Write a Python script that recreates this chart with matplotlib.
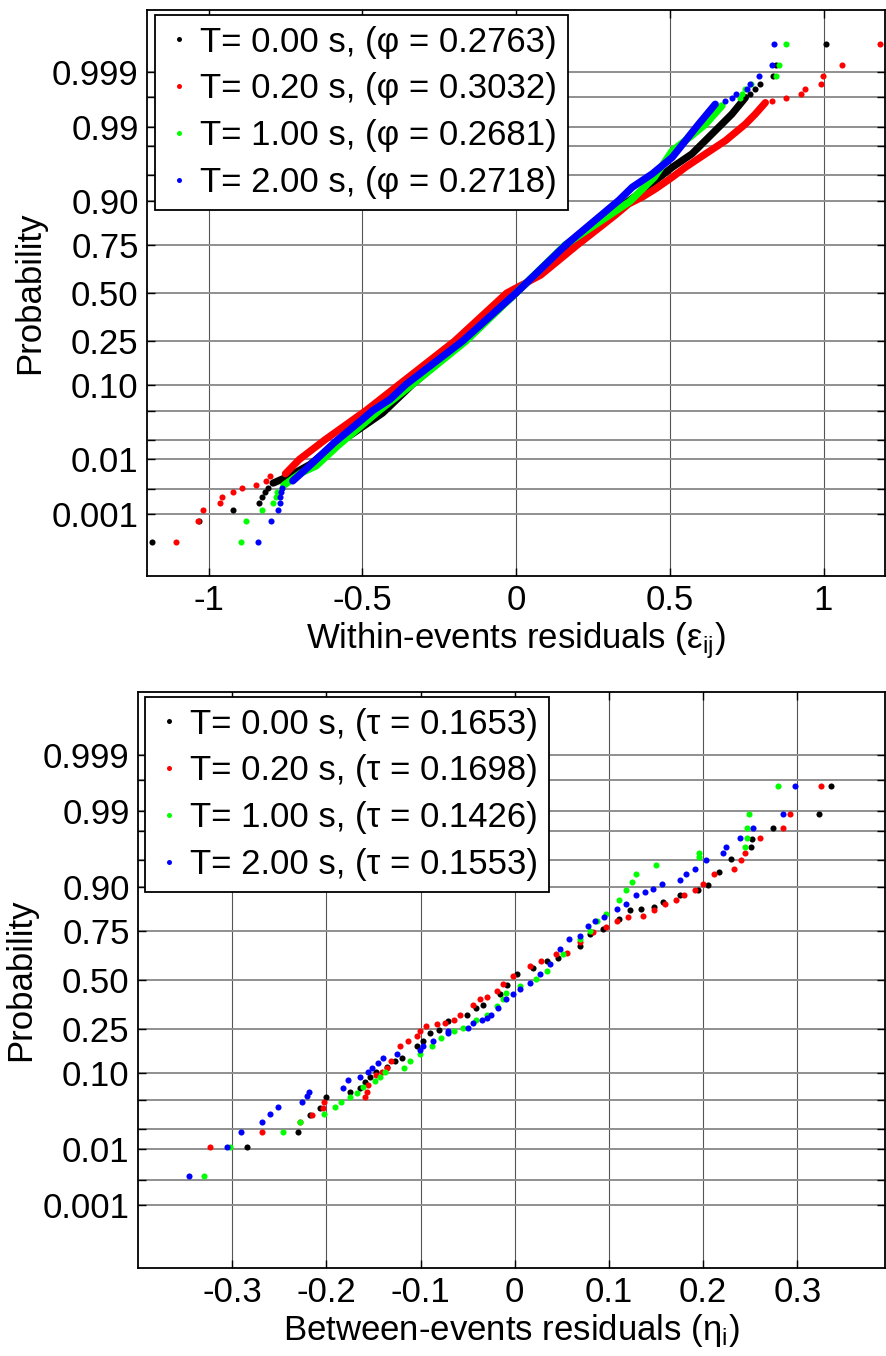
import matplotlib
matplotlib.use('Agg')
import matplotlib.pyplot as plt
from matplotlib.lines import Line2D
from statistics import NormalDist

plt.rcParams['font.family'] = ['Liberation Sans', 'DejaVu Sans']
plt.rcParams['mathtext.fontset'] = 'custom'
plt.rcParams['mathtext.rm'] = 'Liberation Sans'
plt.rcParams['mathtext.it'] = 'Liberation Sans:italic'
plt.rcParams['axes.unicode_minus'] = False

# legend info
periods = ['0.00', '0.20', '1.00', '2.00']
phi_vals = [0.2763, 0.3032, 0.2681, 0.2718]
tau_vals = [0.1653, 0.1698, 0.1426, 0.1553]
colors = ['#000000', '#ff0000', '#00ff00', '#0000ff']

# probability axis (normal quantile scale)
prob_grid = [0.001, 0.003, 0.01, 0.02, 0.05, 0.10, 0.25, 0.50,
             0.75, 0.90, 0.95, 0.98, 0.99, 0.997, 0.999]
prob_labels = ['0.001', '', '0.01', '', '', '0.10', '0.25', '0.50',
               '0.75', '0.90', '', '', '0.99', '', '0.999']

# ---- within-event residuals: x = residual, q = normal quantile of plotting position
# dense middle part ("core") and sparse tails
eps_core_x_t000 = [-0.79, -0.737, -0.67, -0.596, -0.542, -0.434, -0.337, -0.17, 0.0, 0.165,
                   0.29, 0.399, 0.454, 0.508, 0.572, 0.637, 0.702, 0.746]
eps_core_q_t000 = [-2.66, -2.56, -2.40, -2.14, -2.0, -1.68, -1.28, -0.674, 0.0, 0.674,
                   1.05, 1.389, 1.574, 1.759, 1.946, 2.224, 2.503, 2.734]
eps_tail_x_t000 = [-1.183, -1.031, -0.919, -0.836, -0.826, -0.816, -0.808,
                   0.762, 0.778, 0.794, 0.836, 0.846, 1.009]
eps_tail_q_t000 = [-3.49, -3.19, -3.04, -2.94, -2.86, -2.79, -2.73,
                   2.79, 2.85, 2.93, 3.04, 3.19, 3.49]

eps_core_x_t020 = [-0.75, -0.705, -0.62, -0.488, -0.38, -0.20, -0.03, 0.08, 0.20, 0.26, 0.32,
                   0.367, 0.41, 0.454, 0.508, 0.551, 0.616, 0.681, 0.746, 0.778, 0.811]
eps_core_q_t020 = [-2.53, -2.33, -2.05, -1.645, -1.28, -0.674, 0.0, 0.25, 0.674, 0.877, 1.08,
                   1.249, 1.341, 1.458, 1.62, 1.759, 1.946, 2.131, 2.363, 2.503, 2.664]
eps_tail_x_t020 = [-1.105, -1.035, -1.018, -0.964, -0.955, -0.919, -0.891, -0.845, -0.812, -0.80,
                   0.832, 0.879, 0.928, 0.941, 0.993, 0.998, 1.06, 1.185]
eps_tail_q_t020 = [-3.49, -3.19, -3.04, -2.94, -2.86, -2.79, -2.73, -2.68, -2.63, -2.56,
                   2.69, 2.73, 2.79, 2.85, 2.93, 3.04, 3.19, 3.49]

eps_core_x_t100 = [-0.755, -0.70, -0.65, -0.58, -0.445, -0.337, -0.163, 0.0, 0.16, 0.37,
                   0.45, 0.508, 0.565, 0.616, 0.67]
eps_core_q_t100 = [-2.69, -2.52, -2.42, -2.14, -1.645, -1.28, -0.674, 0.0, 0.674, 1.28,
                   1.62, 1.99, 2.18, 2.36, 2.62]
eps_tail_x_t100 = [-0.895, -0.878, -0.826, -0.791, -0.780, -0.776, -0.761,
                   0.73, 0.735, 0.744, 0.765, 0.846, 0.854, 0.879]
eps_tail_q_t100 = [-3.49, -3.19, -3.04, -2.94, -2.86, -2.79, -2.73,
                   2.73, 2.79, 2.85, 2.93, 3.04, 3.19, 3.49]

eps_core_x_t200 = [-0.726, -0.672, -0.59, -0.50, -0.466, -0.41, -0.358, -0.174, 0.0, 0.162,
                   0.334, 0.378, 0.443, 0.508, 0.551, 0.594, 0.648]
eps_core_q_t200 = [-2.63, -2.42, -2.09, -1.77, -1.645, -1.49, -1.28, -0.674, 0.0, 0.674,
                   1.295, 1.48, 1.667, 1.898, 2.131, 2.363, 2.642]
eps_tail_x_t200 = [-0.840, -0.797, -0.774, -0.769, -0.767, -0.764, -0.761,
                   0.681, 0.702, 0.717, 0.751, 0.760, 0.791, 0.832, 0.838]
eps_tail_q_t200 = [-3.49, -3.19, -3.04, -2.94, -2.86, -2.79, -2.73,
                   2.69, 2.73, 2.79, 2.85, 2.93, 3.04, 3.19, 3.49]

# ---- between-event residuals
eta_x_t000 = [-0.284, -0.230, -0.217, -0.207, -0.200, -0.175, -0.164, -0.159, -0.154, -0.147,
              -0.136, -0.127, -0.120, -0.104, -0.097, -0.090, -0.080, -0.071, -0.051, -0.041,
              -0.034, -0.016, -0.008, 0.002, 0.019, 0.034, 0.046, 0.069, 0.080, 0.094,
              0.111, 0.122, 0.134, 0.148, 0.157, 0.175, 0.194, 0.205, 0.217, 0.230,
              0.251, 0.252, 0.274, 0.323, 0.336]
eta_q_t000 = [-2.295, -2.09, -1.85, -1.76, -1.61, -1.54, -1.48, -1.40, -1.33, -1.26,
              -1.19, -1.12, -1.076, -0.914, -0.845, -0.73, -0.683, -0.568, -0.475, -0.384,
              -0.337, -0.198, -0.07, 0.079, 0.17, 0.263, 0.30, 0.471, 0.633, 0.70,
              0.84, 0.956, 0.979, 1.0, 1.07, 1.163, 1.233, 1.30, 1.486, 1.67,
              1.83, 1.94, 2.09, 2.28, 2.67]

eta_x_t020 = [-0.324, -0.268, -0.228, -0.215, -0.204, -0.203, -0.159, -0.157, -0.156, -0.147,
              -0.141, -0.136, -0.131, -0.122, -0.113, -0.104, -0.101, -0.094, -0.083, -0.074,
              -0.065, -0.058, -0.044, -0.037, -0.030, -0.019, -0.012, -0.002, 0.016, 0.028,
              0.044, 0.055, 0.069, 0.083, 0.097, 0.108, 0.120, 0.136, 0.148, 0.159,
              0.171, 0.180, 0.191, 0.200, 0.212, 0.233, 0.240, 0.244, 0.260, 0.285,
              0.292, 0.325]
eta_q_t020 = [-2.295, -2.09, -1.95, -1.85, -1.76, -1.68, -1.61, -1.54, -1.445, -1.31,
              -1.26, -1.215, -1.12, -0.914, -0.845, -0.776, -0.706, -0.637, -0.605, -0.59,
              -0.544, -0.475, -0.337, -0.267, -0.235, -0.152, -0.06, 0.055, 0.194, 0.263,
              0.356, 0.378, 0.517, 0.655, 0.724, 0.817, 0.863, 0.886, 0.956, 1.048,
              1.094, 1.163, 1.233, 1.325, 1.464, 1.533, 1.648, 1.74, 1.95, 2.09,
              2.28, 2.67]

eta_x_t100 = [-0.330, -0.302, -0.246, -0.228, -0.203, -0.191, -0.184, -0.175, -0.168, -0.161,
              -0.148, -0.143, -0.138, -0.118, -0.111, -0.101, -0.088, -0.078, -0.065, -0.055,
              -0.041, -0.030, -0.019, -0.012, -0.009, 0.005, 0.023, 0.034, 0.051, 0.069,
              0.080, 0.087, 0.097, 0.111, 0.118, 0.124, 0.129, 0.150, 0.196, 0.196,
              0.244, 0.246, 0.247, 0.249, 0.279]
eta_q_t100 = [-2.69, -2.295, -2.09, -1.95, -1.84, -1.75, -1.676, -1.61, -1.547, -1.47,
              -1.39, -1.33, -1.26, -1.215, -1.12, -1.02, -0.914, -0.80, -0.706, -0.66,
              -0.544, -0.475, -0.36, -0.267, -0.176, -0.083, 0.01, 0.125, 0.356, 0.563,
              0.679, 0.817, 0.91, 1.094, 1.233, 1.348, 1.464, 1.58, 1.694, 1.74,
              1.83, 1.95, 2.09, 2.28, 2.67]

eta_x_t200 = [-0.346, -0.305, -0.291, -0.268, -0.260, -0.251, -0.226, -0.221, -0.219, -0.182,
              -0.177, -0.164, -0.156, -0.152, -0.145, -0.140, -0.125, -0.101, -0.097, -0.087,
              -0.071, -0.071, -0.050, -0.044, -0.035, -0.030, -0.025, -0.018, -0.009, -0.002,
              0.005, 0.016, 0.027, 0.037, 0.048, 0.058, 0.069, 0.078, 0.085, 0.095,
              0.108, 0.118, 0.129, 0.138, 0.147, 0.156, 0.175, 0.182, 0.191, 0.203,
              0.221, 0.224, 0.239, 0.253, 0.285, 0.297]
eta_q_t200 = [-2.69, -2.295, -2.09, -1.95, -1.84, -1.75, -1.676, -1.59, -1.54, -1.48,
              -1.38, -1.33, -1.26, -1.215, -1.145, -1.076, -1.02, -0.96, -0.914, -0.845,
              -0.73, -0.706, -0.66, -0.59, -0.544, -0.52, -0.475, -0.384, -0.267, -0.198,
              -0.129, -0.037, 0.079, 0.217, 0.425, 0.563, 0.61, 0.748, 0.817, 0.863,
              0.979, 1.048, 1.163, 1.21, 1.256, 1.325, 1.37, 1.464, 1.533, 1.648,
              1.74, 1.83, 1.95, 2.09, 2.28, 2.67]

eps_core = [(eps_core_x_t000, eps_core_q_t000), (eps_core_x_t020, eps_core_q_t020),
            (eps_core_x_t100, eps_core_q_t100), (eps_core_x_t200, eps_core_q_t200)]
eps_tail = [(eps_tail_x_t000, eps_tail_q_t000), (eps_tail_x_t020, eps_tail_q_t020),
            (eps_tail_x_t100, eps_tail_q_t100), (eps_tail_x_t200, eps_tail_q_t200)]
eta_pts = [(eta_x_t000, eta_q_t000), (eta_x_t020, eta_q_t020),
           (eta_x_t100, eta_q_t100), (eta_x_t200, eta_q_t200)]

FS = 25
MS = 4.4


def style_axes(ax, xlim, xticks, xticklabels, xlabel):
    nd = NormalDist()
    ax.set_xlim(xlim)
    ax.set_ylim(-3.96, 3.96)
    ax.set_yticks([nd.inv_cdf(p) for p in prob_grid])
    ax.set_yticklabels(prob_labels)
    ax.set_xticks(xticks)
    ax.set_xticklabels(xticklabels)
    ax.xaxis.grid(True, color='#555555', lw=0.8)
    ax.yaxis.grid(True, color='#8f8f8f', lw=1.4)
    ax.set_axisbelow(True)
    ax.tick_params(direction='in', top=True, right=True, length=6, width=1,
                   labelsize=FS, pad=6)
    for s in ax.spines.values():
        s.set_linewidth(1.3)
    ax.set_ylabel('Probability', fontsize=FS, labelpad=4)
    ax.set_xlabel(xlabel, fontsize=FS, labelpad=2)


def add_legend(ax, labels, anchor):
    handles = [Line2D([], [], ls='none', marker='o', ms=3.6, mew=0, color=c) for c in colors]
    leg = ax.legend(handles, labels, loc='upper left', bbox_to_anchor=anchor,
                    borderaxespad=0, fontsize=FS, frameon=True, fancybox=False,
                    framealpha=1, edgecolor='black', handlelength=0.8,
                    handletextpad=0.2, borderpad=0.3, labelspacing=0.4)
    leg.get_frame().set_linewidth(1.3)


fig = plt.figure(figsize=(8.86, 13.56), dpi=100)
ax1 = fig.add_axes([147 / 886, 1 - 576 / 1356, 738 / 886, 566 / 1356])
ax2 = fig.add_axes([138 / 886, 1 - 1268 / 1356, 747 / 886, 576 / 1356])

# within-event panel
for c, (cx, cq), (tx, tq) in zip(colors, eps_core, eps_tail):
    ax1.plot(cx, cq, '-', color=c, lw=5.2, solid_capstyle='round', solid_joinstyle='round')
    ax1.plot(tx, tq, 'o', color=c, ms=MS, mew=0)
style_axes(ax1, (-1.2, 1.2), [-1, -0.5, 0, 0.5, 1], ['-1', '-0.5', '0', '0.5', '1'],
           r'Within-events residuals (ε$_{\mathrm{ij}}$)')
add_legend(ax1, ['T= %s s, (φ = %.4f)' % (t, v) for t, v in zip(periods, phi_vals)],
           (0.011, 0.991))

# between-event panel
for c, (x, q) in zip(colors, eta_pts):
    ax2.plot(x, q, 'o', color=c, ms=MS, mew=0)
style_axes(ax2, (-0.4, 0.393), [-0.3, -0.2, -0.1, 0, 0.1, 0.2, 0.3],
           ['-0.3', '-0.2', '-0.1', '0', '0.1', '0.2', '0.3'],
           r'Between-events residuals (η$_{\mathrm{i}}$)')
add_legend(ax2, ['T= %s s, (τ = %.4f)' % (t, v) for t, v in zip(periods, tau_vals)],
           (0.0094, 0.991))

fig.savefig('out.png', dpi=100, facecolor='white')
